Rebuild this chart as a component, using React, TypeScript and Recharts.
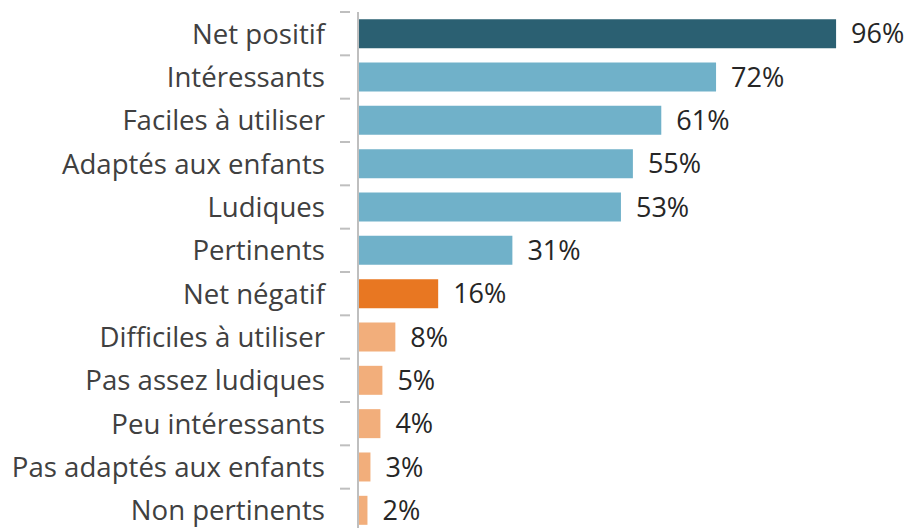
import { BarChart, Bar, XAxis, YAxis, Cell, LabelList } from "recharts";

const categories = [
  "Net positif",
  "Intéressants",
  "Faciles à utiliser",
  "Adaptés aux enfants",
  "Ludiques",
  "Pertinents",
  "Net négatif",
  "Difficiles à utiliser",
  "Pas assez ludiques",
  "Peu intéressants",
  "Pas adaptés aux enfants",
  "Non pertinents",
];

// share of respondents (%)
const values = [96, 71.9, 60.9, 55.2, 52.8, 31, 16.1, 7.5, 4.9, 4.5, 2.5, 1.9];
const valueLabels = ["96%", "72%", "61%", "55%", "53%", "31%", "16%", "8%", "5%", "4%", "3%", "2%"];
const groups = ["net", "pos", "pos", "pos", "pos", "pos", "netneg", "neg", "neg", "neg", "neg", "neg"];

const groupColors: Record<string, string> = {
  net: "#2b6072",
  pos: "#70b1c9",
  netneg: "#e87722",
  neg: "#f2ae7b",
};

const data = categories.map((name, i) => ({
  name,
  value: values[i],
  label: valueLabels[i],
  group: groups[i],
}));

const FONT = "'Open Sans', sans-serif";
const BAND = 520 / categories.length;

function CategoryTick(props: any) {
  const { x, y, payload } = props;
  return (
    <g>
      <line x1={x - 10} x2={x} y1={y - BAND / 2} y2={y - BAND / 2} stroke="#bfbfbf" strokeWidth={2} />
      <text
        x={x - 25}
        y={y}
        dy={10}
        textAnchor="end"
        fill="#404040"
        fontSize={27.6}
        fontFamily={FONT}
      >
        {payload.value}
      </text>
    </g>
  );
}

export default function App() {
  return (
    <div style={{ position: "absolute", left: 0, top: 0, width: 911, height: 528, overflow: "hidden", background: "#fff" }}>
      <BarChart
        width={911}
        height={532}
        data={data}
        layout="vertical"
        margin={{ top: 12, right: 55, left: 0, bottom: 0 }}
        barCategoryGap="16.5%"
      >
        <XAxis type="number" domain={[0, 100]} hide />
        <YAxis
          type="category"
          dataKey="name"
          width={358}
          axisLine={{ stroke: "#bfbfbf", strokeWidth: 2 }}
          tickLine={false}
          tick={<CategoryTick />}
          interval={0}
        />
        <Bar dataKey="value" isAnimationActive={false}>
          {data.map((d) => (
            <Cell key={d.name} fill={groupColors[d.group]} />
          ))}
          <LabelList
            dataKey="label"
            position="right"
            offset={15}
            fill="#262626"
            fontSize={27}
            fontFamily={FONT}
          />
        </Bar>
      </BarChart>
    </div>
  );
}
